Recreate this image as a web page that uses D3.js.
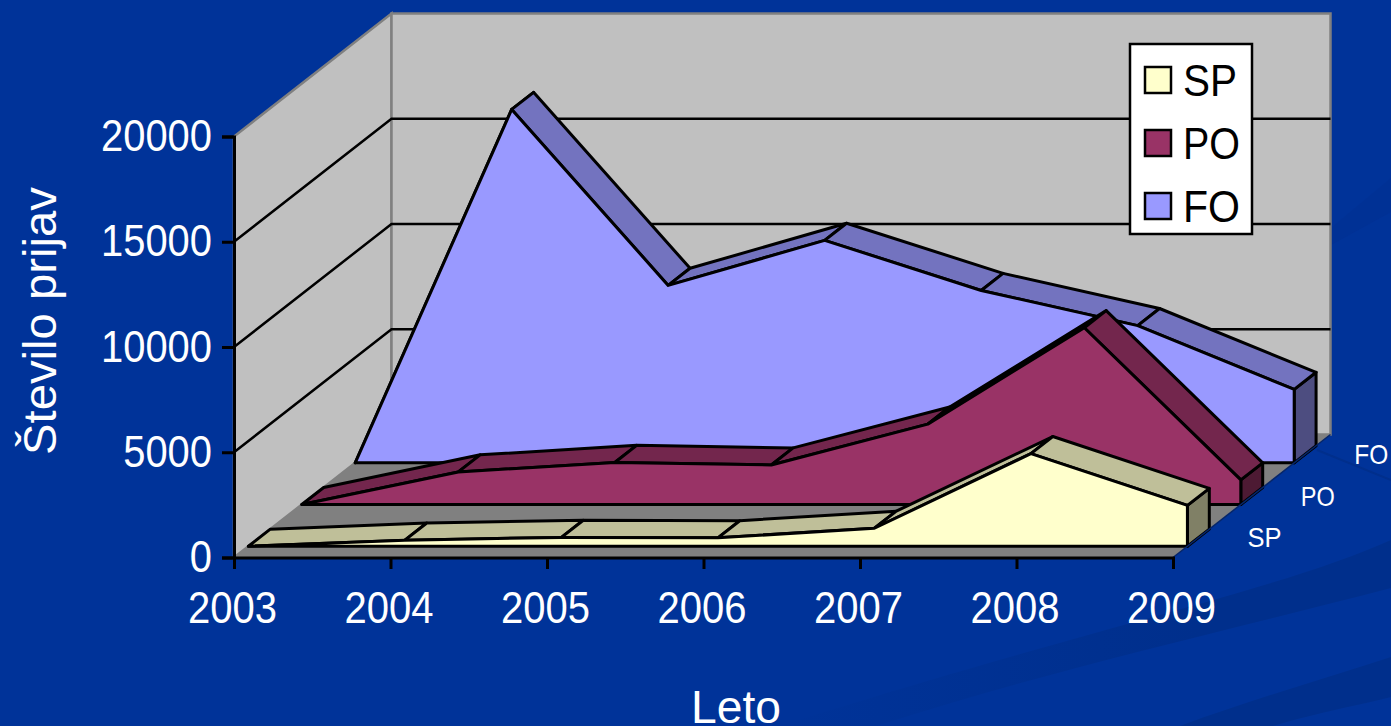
<!DOCTYPE html>
<html>
<head>
<meta charset="utf-8">
<script src="https://cdnjs.cloudflare.com/ajax/libs/d3/7.8.5/d3.min.js"></script>
<style>
  html, body { margin: 0; padding: 0; background: #003399; overflow: hidden; }
  svg { display: block; }
  text { font-family: "Liberation Sans", Arial, sans-serif; }
</style>
</head>
<body>
<svg id="chart" width="1391" height="726"></svg>
<script>
const years = [2003, 2004, 2005, 2006, 2007, 2008, 2009];
const seriesNames = ["SP", "PO", "FO"];
const spValues = [0, 290, 420, 400, 855, 4400, 1940];
const poValues = [0, 1550, 2000, 1880, 3820, 8400, 1170];
const foValues = [0, 16790, 8430, 10570, 8190, 6520, 3490];
const yTicks = [0, 5000, 10000, 15000, 20000];
const yTitle = "Število prijav";
const xTitle = "Leto";

const valuesByName = { SP: spValues, PO: poValues, FO: foValues };
const faceColors = { SP: "#FFFFCC", PO: "#993366", FO: "#9999FF" };

const svg = d3.select("#chart");

// background swooshes, they fade out to the left
const swooshes = [
  "M1391,540 C1280,590 1100,625 780,726 L876,726 C1050,670 1230,630 1391,588 Z",
  "M1391,657 C1320,680 1250,700 1180,726 L1273,726 C1320,712 1360,705 1391,697 Z"
];
const fade = svg.append("defs").append("linearGradient")
  .attr("id", "fade").attr("gradientUnits", "userSpaceOnUse")
  .attr("x1", 780).attr("x2", 1200).attr("y1", 0).attr("y2", 0);
fade.append("stop").attr("offset", 0).attr("stop-color", "#003399");
fade.append("stop").attr("offset", 1).attr("stop-color", "#002f8c");
svg.append("rect").attr("width", 1391).attr("height", 726).attr("fill", "#003399");
svg.selectAll("path.swoosh")
  .data(swooshes)
  .enter()
  .append("path")
  .attr("class", "swoosh")
  .attr("d", d => d)
  .attr("fill", "url(#fade)");
svg.append("path")
  .attr("d", "M1331,228 L1391,178 L1391,212 L1331,245 Z")
  .attr("fill", "#003195");
svg.append("path")
  .attr("d", "M1317,450 L1391,480")
  .attr("stroke", "#002f8c").attr("stroke-width", 2).attr("fill", "none");

// scales
const x = d3.scalePoint().domain(years).range([234, 1173]);
const y = d3.scaleLinear().domain([0, 20000]).range([557.5, 136.5]);
const depthX = d3.scaleLinear().domain([0, 1]).range([0, 157.5]);
const depthY = d3.scaleLinear().domain([0, 1]).range([0, -123]);
const depth = d3.scaleBand().domain(seriesNames).range([0, 1]).paddingInner(0.59).paddingOuter(0.27);

// one point in the 3d box
function project(year, value, d) {
  return [x(year) + depthX(d), y(value) + depthY(d)];
}
const poly = d3.line();

const first = years[0];
const last = years[years.length - 1];
const maxV = yTicks[yTicks.length - 1];

// walls and floor
const walls = svg.append("g");
walls.append("path")
  .attr("d", poly([project(first, 0, 0), project(first, maxV, 0), project(first, maxV, 1), project(first, 0, 1)]) + "Z")
  .attr("fill", "#C0C0C0").attr("stroke", "#808080").attr("stroke-width", 2.5);
walls.append("path")
  .attr("d", poly([project(first, 0, 1), project(first, maxV, 1), project(last, maxV, 1), project(last, 0, 1)]) + "Z")
  .attr("fill", "#C0C0C0").attr("stroke", "#808080").attr("stroke-width", 2.5);
walls.append("path")
  .attr("d", poly([project(first, 0, 0), project(last, 0, 0), project(last, 0, 1), project(first, 0, 1)]) + "Z")
  .attr("fill", "#808080");

// gridlines
const gridTicks = yTicks.slice(1, -1);
walls.selectAll("path.grid")
  .data(gridTicks)
  .enter()
  .append("path")
  .attr("class", "grid")
  .attr("d", v => poly([project(first, v, 0), project(first, v, 1), project(last, v, 1)]))
  .attr("fill", "none")
  .attr("stroke", "#000")
  .attr("stroke-width", 2.5);

// areas, back to front
const shade = (c, k) => {
  const r = d3.rgb(c);
  return d3.rgb(r.r * k, r.g * k, r.b * k).formatHex();
};
seriesNames.slice().reverse().forEach(name => {
  const vals = valuesByName[name];
  const d0 = depth(name);
  const d1 = d0 + depth.bandwidth();
  const g = svg.append("g").attr("stroke", "#000").attr("stroke-width", 3).attr("stroke-linejoin", "round");

  // end cap
  g.append("path")
    .attr("d", poly([project(last, vals[vals.length - 1], d0), project(last, vals[vals.length - 1], d1), project(last, 0, d1), project(last, 0, d0)]) + "Z")
    .attr("fill", shade(faceColors[name], 0.5));

  // top strips
  g.selectAll("path.strip")
    .data(d3.pairs(years.map((yr, i) => [yr, vals[i]])))
    .enter()
    .append("path")
    .attr("class", "strip")
    .attr("d", ([a, b]) => poly([project(a[0], a[1], d0), project(b[0], b[1], d0), project(b[0], b[1], d1), project(a[0], a[1], d1)]) + "Z")
    .attr("fill", shade(faceColors[name], 0.75));

  // front face
  const area = d3.area()
    .x((v, i) => project(years[i], v, d0)[0])
    .y0(() => project(first, 0, d0)[1])
    .y1((v, i) => project(years[i], v, d0)[1]);
  g.append("path").attr("d", area(vals)).attr("fill", faceColors[name]);
});

// depth edge
svg.append("path")
  .attr("d", poly([project(last, 0, 0), project(last, 0, 1)]))
  .attr("stroke", "#06266b").attr("stroke-width", 1.5);

// axes
const axisY = svg.append("g")
  .attr("transform", "translate(" + x(first) + ",0)")
  .call(d3.axisLeft(y).tickValues(yTicks).tickSize(12).tickPadding(10).tickFormat(d3.format("d")));
const axisX = svg.append("g")
  .attr("transform", "translate(0," + y(0) + ")")
  .call(d3.axisBottom(x).tickSize(11.5).tickPadding(23).tickFormat(d3.format("d")));
[axisY, axisX].forEach(a => {
  a.select(".domain").attr("stroke", "#000").attr("stroke-width", 3);
  a.selectAll(".tick line").attr("stroke", "#000").attr("stroke-width", 3);
  a.selectAll("text").attr("fill", "#fff").style("font-size", "44px");
});
axisY.selectAll("text").attr("textLength", d => String(d).length * 22.2).attr("lengthAdjust", "spacingAndGlyphs");
axisX.selectAll("text").attr("textLength", 89).attr("lengthAdjust", "spacingAndGlyphs").attr("dx", -2);

// series labels along the depth axis
svg.selectAll("text.depth")
  .data(seriesNames)
  .enter()
  .append("text")
  .attr("class", "depth")
  .attr("x", d => project(last, 0, depth(d))[0] + 60)
  .attr("y", d => project(last, 0, depth(d))[1] + 1)
  .attr("fill", "#fff")
  .attr("textLength", 34)
  .attr("lengthAdjust", "spacingAndGlyphs")
  .style("font-size", "28px")
  .text(d => d);

// titles
svg.append("text")
  .attr("x", 736).attr("y", 723)
  .attr("text-anchor", "middle")
  .attr("fill", "#fff")
  .attr("textLength", 90)
  .attr("lengthAdjust", "spacingAndGlyphs")
  .style("font-size", "47px")
  .text(xTitle);
svg.append("text")
  .attr("transform", "translate(56,321) rotate(-90)")
  .attr("text-anchor", "middle")
  .attr("fill", "#fff")
  .attr("textLength", 268)
  .attr("lengthAdjust", "spacingAndGlyphs")
  .style("font-size", "47px")
  .text(yTitle);

// legend
const legendY = d3.scalePoint().domain(seriesNames).range([80, 206]);
const legend = svg.append("g");
legend.append("rect")
  .attr("x", 1130).attr("y", 44).attr("width", 122).attr("height", 190)
  .attr("fill", "#fff").attr("stroke", "#000").attr("stroke-width", 2.5);
legend.selectAll("rect.swatch")
  .data(seriesNames)
  .enter()
  .append("rect")
  .attr("class", "swatch")
  .attr("x", 1145).attr("y", d => legendY(d) - 13)
  .attr("width", 26).attr("height", 26)
  .attr("fill", d => faceColors[d]).attr("stroke", "#000").attr("stroke-width", 2.5);
legend.selectAll("text")
  .data(seriesNames)
  .enter()
  .append("text")
  .attr("x", 1183).attr("y", d => legendY(d) + 16)
  .attr("fill", "#000")
  .style("font-size", "44px")
  .attr("textLength", d => d === "SP" ? 54 : 57)
  .attr("lengthAdjust", "spacingAndGlyphs")
  .text(d => d);
</script>
</body>
</html>
